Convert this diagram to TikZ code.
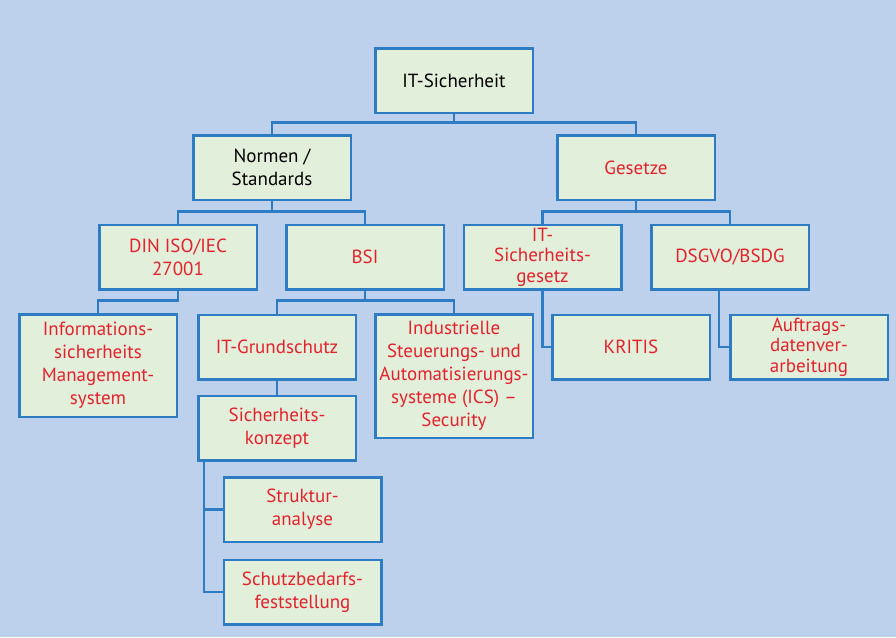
\documentclass[tikz,border=0pt]{standalone}
\usepackage{fontspec}
\setmainfont{PT Sans}
\definecolor{bgblue}{HTML}{BDD0EC}
\definecolor{boxfill}{HTML}{E2EFDA}
\definecolor{boxline}{HTML}{2E7DC4}
\definecolor{txtred}{HTML}{E4222C}
\begin{document}
\begin{tikzpicture}[x=1pt,y=-1pt,
  box/.style={draw=boxline,fill=boxfill,line width=2.5pt,minimum width=157.5pt,
    minimum height=64.5pt,inner sep=0pt,outer sep=0pt,align=center,text=txtred,
    font=\fontsize{19pt}{23pt}\selectfont},
  tight/.style={font=\fontsize{19pt}{20.5pt}\selectfont},
  blk/.style={text=black},
  conn/.style={draw=boxline,line width=2.5pt}]
\fill[bgblue] (0,0) rectangle (896,637);
\useasboundingbox (0,0) rectangle (896,637);
\node[box,blk] (top) at (454,80.5) {IT-Sicherheit};
\node[box,blk] (normen) at (272,167.5) {Normen /\\Standards};
\node[box] (gesetze) at (636,167.5) {Gesetze};
\node[box] (din) at (178,257) {DIN ISO/IEC\\27001};
\node[box] (bsi) at (365,257) {BSI};
\node[box,tight] (itsig) at (542.5,257) {IT-\\Sicherheits-\\gesetz};
\node[box] (dsgvo) at (730,257) {DSGVO/BSDG};
\node[box,minimum height=102.5pt] (info) at (98,365.5) {Informations-\\sicherheits\\Management-\\system};
\node[box] (grund) at (277,347) {IT-Grundschutz};
\node[box,minimum height=123.5pt] (ics) at (454,376) {Industrielle\\Steuerungs- und\\Automatisierungs-\\systeme (ICS) --\\Security};
\node[box] (kritis) at (631,347) {KRITIS};
\node[box,tight] (auftrag) at (809,347) {Auftrags-\\datenver-\\arbeitung};
\node[box] (konzept) at (277,428) {Sicherheits-\\konzept};
\node[box] (struktur) at (302.5,509.5) {Struktur-\\analyse};
\node[box] (schutz) at (302.5,592) {Schutzbedarfs-\\feststellung};
\draw[conn] (top.south) -- ++(0,9.5) -| (normen.north);
\draw[conn] (top.south) -- ++(0,9.5) -| (gesetze.north);
\draw[conn] (normen.south) -- ++(0,11.5) -| (din.north);
\draw[conn] (normen.south) -- ++(0,11.5) -| (bsi.north);
\draw[conn] (gesetze.south) -- ++(0,11.5) -| (itsig.north);
\draw[conn] (gesetze.south) -- ++(0,11.5) -| (dsgvo.north);
\draw[conn] (din.south) -- ++(0,11) -| (info.north);
\draw[conn] (bsi.south) -- ++(0,11) -| (grund.north);
\draw[conn] (bsi.south) -- ++(0,11) -| (ics.north);
\draw[conn] (itsig.south) |- (kritis.west);
\draw[conn] ([xshift=-11pt]dsgvo.south) |- (auftrag.west);
\draw[conn] (grund.south) -- (konzept.north);
\draw[conn] ([xshift=-73pt]konzept.south) |- (struktur.west);
\draw[conn] ([xshift=-73pt]konzept.south) |- (schutz.west);
\end{tikzpicture}
\end{document}
